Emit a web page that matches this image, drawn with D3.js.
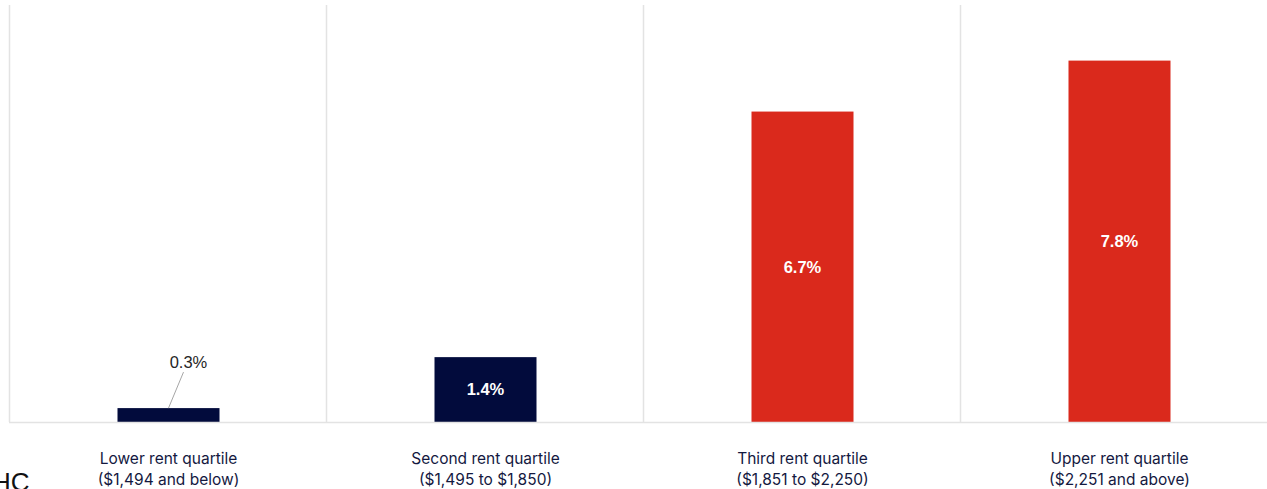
<!DOCTYPE html>
<html>
<head>
<meta charset="utf-8">
<script src="https://cdn.jsdelivr.net/npm/d3@7"></script>
<style>
  body { margin: 0; background: #fff; overflow: hidden; }
  svg { display: block; }
</style>
</head>
<body>
<svg></svg>
<script>
var width = 1267;
var height = 489;

// data
var categories = ["Lower rent quartile", "Second rent quartile", "Third rent quartile", "Upper rent quartile"];
var ranges = ["($1,494 and below)", "($1,495 to $1,850)", "($1,851 to $2,250)", "($2,251 and above)"];
var values = [0.3, 1.4, 6.7, 7.8];
var barColors = ["#020b3c", "#020b3c", "#da291c", "#da291c"];

var padLeft = 9, padTop = 5, baseY = 422, bandW = 317;

var xScale = d3.scaleBand()
                .domain(categories)
                .range([padLeft, padLeft + bandW * categories.length])
                .paddingInner(0)
                .paddingOuter(0);

var yScale = d3.scaleLinear()
                .domain([0, 9])
                .range([baseY, padTop]);

var svg = d3.select("svg")
    .attr("width", width)
    .attr("height", height);

// category separators
svg.selectAll("line.sep")
  .data(categories.concat(["end"]))
  .enter()
  .append("line")
    .attr("class", "sep")
    .attr("x1", (d, i) => padLeft + i * bandW + 0.5)
    .attr("x2", (d, i) => padLeft + i * bandW + 0.5)
    .attr("y1", padTop)
    .attr("y2", baseY)
    .attr("stroke", "#e3e3e3")
    .attr("stroke-width", 1.5);

var barW = 102;

svg.selectAll("rect.bar")
  .data(values)
  .enter()
  .append("rect")
    .attr("class", "bar")
    .attr("x", (d, i) => xScale(categories[i]) + xScale.bandwidth() / 2 - barW / 2 + 1)
    .attr("y", d => yScale(d))
    .attr("width", barW)
    .attr("height", d => yScale(0) - yScale(d))
    .attr("fill", (d, i) => barColors[i]);

// baseline
svg.append("line")
    .attr("x1", padLeft)
    .attr("x2", padLeft + bandW * 4)
    .attr("y1", yScale(0) + 0.5)
    .attr("y2", yScale(0) + 0.5)
    .attr("stroke", "#e3e3e3")
    .attr("stroke-width", 1.5);

// value labels
values.forEach(function(v, i) {
  var cx = xScale(categories[i]) + xScale.bandwidth() / 2 + 1;
  var h = yScale(0) - yScale(v);
  if (h > 30) {
    svg.append("text")
        .attr("x", cx)
        .attr("y", (yScale(v) + yScale(0)) / 2)
        .attr("dy", "0.35em")
        .attr("text-anchor", "middle")
        .attr("font-family", "Liberation Sans, Arial, sans-serif")
        .attr("font-size", 16.5)
        .attr("font-weight", "bold")
        .attr("fill", "#fff")
        .text(v.toFixed(1) + "%");
  } else {
    svg.append("line")
        .attr("x1", cx)
        .attr("y1", yScale(v))
        .attr("x2", cx + 15)
        .attr("y2", yScale(v) - 36)
        .attr("stroke", "#a6a6a6")
        .attr("stroke-width", 1);
    svg.append("text")
        .attr("x", cx + 20)
        .attr("y", yScale(v) - 46)
        .attr("dy", "0.35em")
        .attr("text-anchor", "middle")
        .attr("font-family", "Liberation Sans, Arial, sans-serif")
        .attr("font-size", 16.5)
        .attr("fill", "#262626")
        .text(v.toFixed(1) + "%");
  }
});

// category labels
var labels = svg.selectAll("text.cat")
  .data(categories)
  .enter()
  .append("text")
    .attr("class", "cat")
    .attr("text-anchor", "middle")
    .attr("font-family", "Inter, sans-serif")
    .attr("font-size", 15.5)
    .attr("fill", "#14193f");

labels.append("tspan")
    .attr("x", d => xScale(d) + xScale.bandwidth() / 2 + 1)
    .attr("y", 464)
    .text(d => d);
labels.append("tspan")
    .attr("x", d => xScale(d) + xScale.bandwidth() / 2 + 1)
    .attr("y", 485)
    .text((d, i) => ranges[i]);

// cropped footer text
svg.append("text")
    .attr("x", -8)
    .attr("y", 491)
    .attr("font-family", "Liberation Sans, Arial, sans-serif")
    .attr("font-size", 26)
    .attr("fill", "#111")
    .text("HC");
</script>
</body>
</html>
